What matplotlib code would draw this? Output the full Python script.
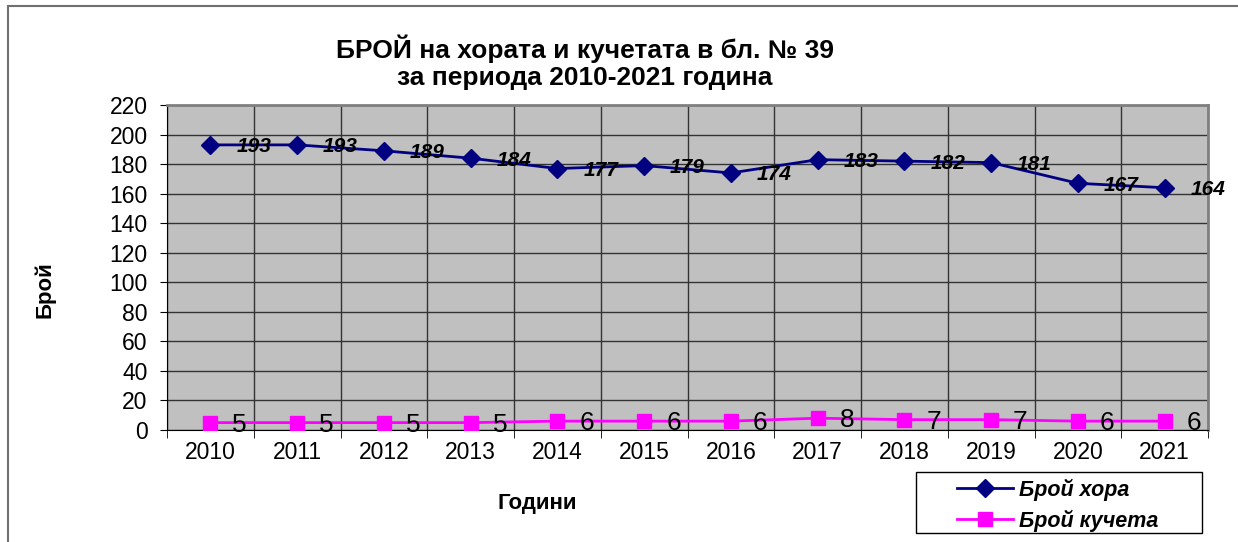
import matplotlib.pyplot as plt
from matplotlib.patches import Rectangle

plt.rcParams['font.family'] = ['Liberation Sans', 'DejaVu Sans']

years = ['2010', '2011', '2012', '2013', '2014', '2015', '2016', '2017', '2018', '2019', '2020', '2021']
people = [193, 193, 189, 184, 177, 179, 174, 183, 182, 181, 167, 164]
dogs = [5, 5, 5, 5, 6, 6, 6, 8, 7, 7, 6, 6]

fig = plt.figure(figsize=(12.38, 5.42), dpi=100)
ax = fig.add_axes([167/1238, 112/542, 1041/1238, 325/542])
ax.set_facecolor('#C0C0C0')

x = list(range(len(years)))
ax.plot(x, people, color='#000080', lw=2, marker='D', ms=9, label='Брой хора', zorder=3)
ax.plot(x, dogs, color='#FF00FF', lw=2, marker='s', ms=10.5, label='Брой кучета', zorder=3)

for i, v in enumerate(people):
    ax.annotate(str(v), (i, v), xytext=(26, -2), textcoords='offset pixels',
                ha='left', va='center', fontsize=15, fontweight='bold', style='italic', zorder=4)
for i, v in enumerate(dogs):
    ax.annotate(str(v), (i, v), xytext=(22, -2), textcoords='offset pixels',
                ha='left', va='center', fontsize=19, zorder=4)

ax.set_xlim(-0.5, len(years) - 0.5)
ax.set_ylim(0, 220)
ax.set_yticks(range(0, 221, 20))
ax.set_xticks(x)
ax.set_xticklabels(years)
ax.set_xticks([i + 0.5 for i in range(-1, len(years))], minor=True)
ax.tick_params(axis='x', which='major', length=0, labelsize=16.5, pad=8)
ax.tick_params(axis='x', which='minor', length=6, color='black')
ax.tick_params(axis='y', labelsize=16.5, length=5, pad=9)
ax.grid(True, which='minor', axis='x', color='#333333', lw=1)
ax.grid(True, which='major', axis='y', color='#333333', lw=1)
for s in ['top', 'right']:
    ax.spines[s].set_color('#808080')
    ax.spines[s].set_linewidth(2)
for s in ['left', 'bottom']:
    ax.spines[s].set_color('black')

fig.text(585/1238, 1 - 62/542, 'БРОЙ на хората и кучетата в бл. № 39\nза периода 2010-2021 година',
         ha='center', va='center', fontsize=19, fontweight='bold', linespacing=1.15)
fig.text(45/1238, 1 - 290/542, 'Брой', rotation=90, ha='center', va='center', fontsize=16, fontweight='bold')
fig.text(537/1238, 1 - 503/542, 'Години', ha='center', va='center', fontsize=16, fontweight='bold')

# legend box drawn separately, entries placed inside it
fig.patches.append(Rectangle((916/1238, 9/542), 286/1238, 61/542, transform=fig.transFigure,
                             fill=False, edgecolor='black', lw=1))
leg = fig.legend(loc='center left', bbox_to_anchor=(957/1238, 37/542), frameon=False,
                 prop={'size': 15.5, 'weight': 'bold', 'style': 'italic'}, handlelength=2.6,
                 handletextpad=0.3, labelspacing=0.4, borderpad=0, borderaxespad=0)

# outer chart border (runs off the bottom and right of the image)
fig.patches.append(Rectangle((8/1238, -0.1), 1.2, 1 - 6/542 + 0.1, transform=fig.transFigure,
                             fill=False, edgecolor='#707070', lw=1.5))

fig.savefig('out.png', dpi=100)
